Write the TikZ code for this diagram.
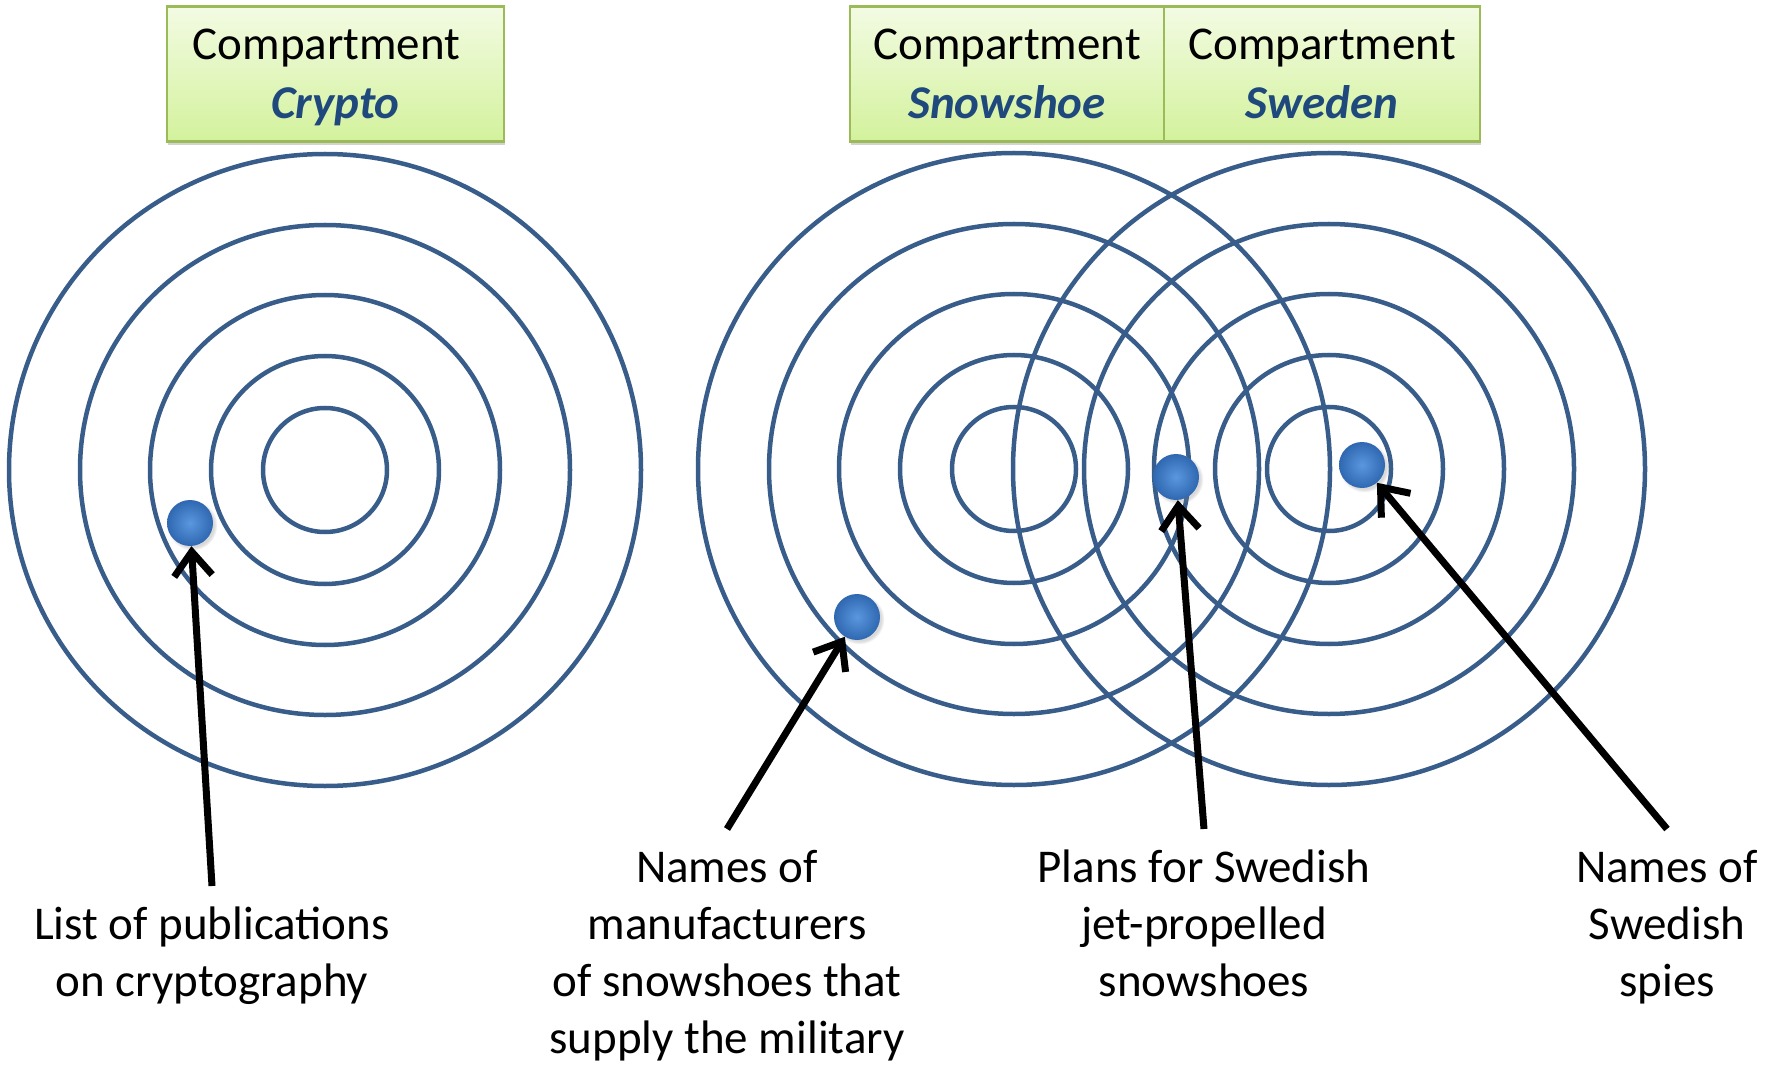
\documentclass[tikz,border=0pt]{standalone}
\usepackage{fontspec}
\setmainfont{Carlito}
\usetikzlibrary{arrows.meta,shadows}
\definecolor{ringblue}{HTML}{385D8A}
\definecolor{ballin}{HTML}{5A97DE}
\definecolor{ballout}{HTML}{2F68B0}
\definecolor{hdr}{HTML}{1F497D}
\definecolor{gedge}{HTML}{9BBB59}
\definecolor{gtop}{HTML}{F3FBE3}
\definecolor{gbot}{HTML}{D3F29C}
\newcommand{\cname}[1]{{\bfseries\itshape\color{hdr}#1}}
\newcommand{\hstrut}{\rule[-14pt]{0pt}{58pt}}
\tikzset{
  cbox/.style={draw=gedge,line width=2.5pt,top color=gtop,bottom color=gbot,minimum height=135pt,align=center,inner sep=0pt,
    drop shadow={shadow xshift=1pt,shadow yshift=-4pt,opacity=0.35}},
  trg/.style={draw=ringblue,line width=4.5pt},
  spot/.style={circle,minimum size=46pt,inner sep=0pt,shading=radial,inner color=ballin,outer color=ballout,
    circular drop shadow={shadow xshift=2pt,shadow yshift=-2pt,opacity=0.3}},
  lbl/.style={align=center,inner sep=0pt,outer ysep=21pt,anchor=north},
  ptr/.style={-{Straight Barb[length=24pt,width=38pt]},line width=7pt,black},
}

\begin{document}
\begin{tikzpicture}[x=1pt,y=-1pt,font=\fontsize{47}{57}\selectfont]
\useasboundingbox (0,0) rectangle (1781,1067);
% compartment headers
\node[cbox,minimum width=337pt] (hcr) at (335.5,74) {\hstrut Compartment\hspace*{18pt}\\\cname{Crypto}\hstrut};
\node[cbox,minimum width=314pt] (hsn) at (1007,74) {\hstrut Compartment\\\cname{Snowshoe}\hstrut};
\node[cbox,minimum width=316pt] (hsw) at (1322,74) {\hstrut Compartment\\\cname{Sweden}\hstrut};
% target rings
\coordinate (ccr) at (325,470);
\coordinate (csn) at (1014,469);
\coordinate (csw) at (1329,469);
\foreach \c in {ccr,csn,csw}
  \foreach \r in {316,245,175,114,62}
    \draw[trg] (\c) circle (\r);
% data items
\node[spot] (bcr) at (190,523) {};
\node[spot] (bmfg) at (857,617) {};
\node[spot] (bplan) at (1176,477) {};
\node[spot] (bspy) at (1362,465) {};
% captions
\node[lbl] (lcr) at (212,886) {List of publications\\on cryptography};
\node[lbl] (lmfg) at (727,829) {Names of\\manufacturers\\of snowshoes that\\supply the military};
\node[lbl] (lplan) at (1204,829) {Plans for Swedish\\jet-propelled\\snowshoes};
\node[lbl] (lspy) at (1667,829) {Names of\\Swedish\\spies};
% pointers
\draw[ptr] (lcr.north) -- (bcr);
\draw[ptr] (lmfg.north) -- (bmfg);
\draw[ptr] (lplan.north) -- (bplan);
\draw[ptr] (lspy.north) -- (bspy);
\end{tikzpicture}
\end{document}
